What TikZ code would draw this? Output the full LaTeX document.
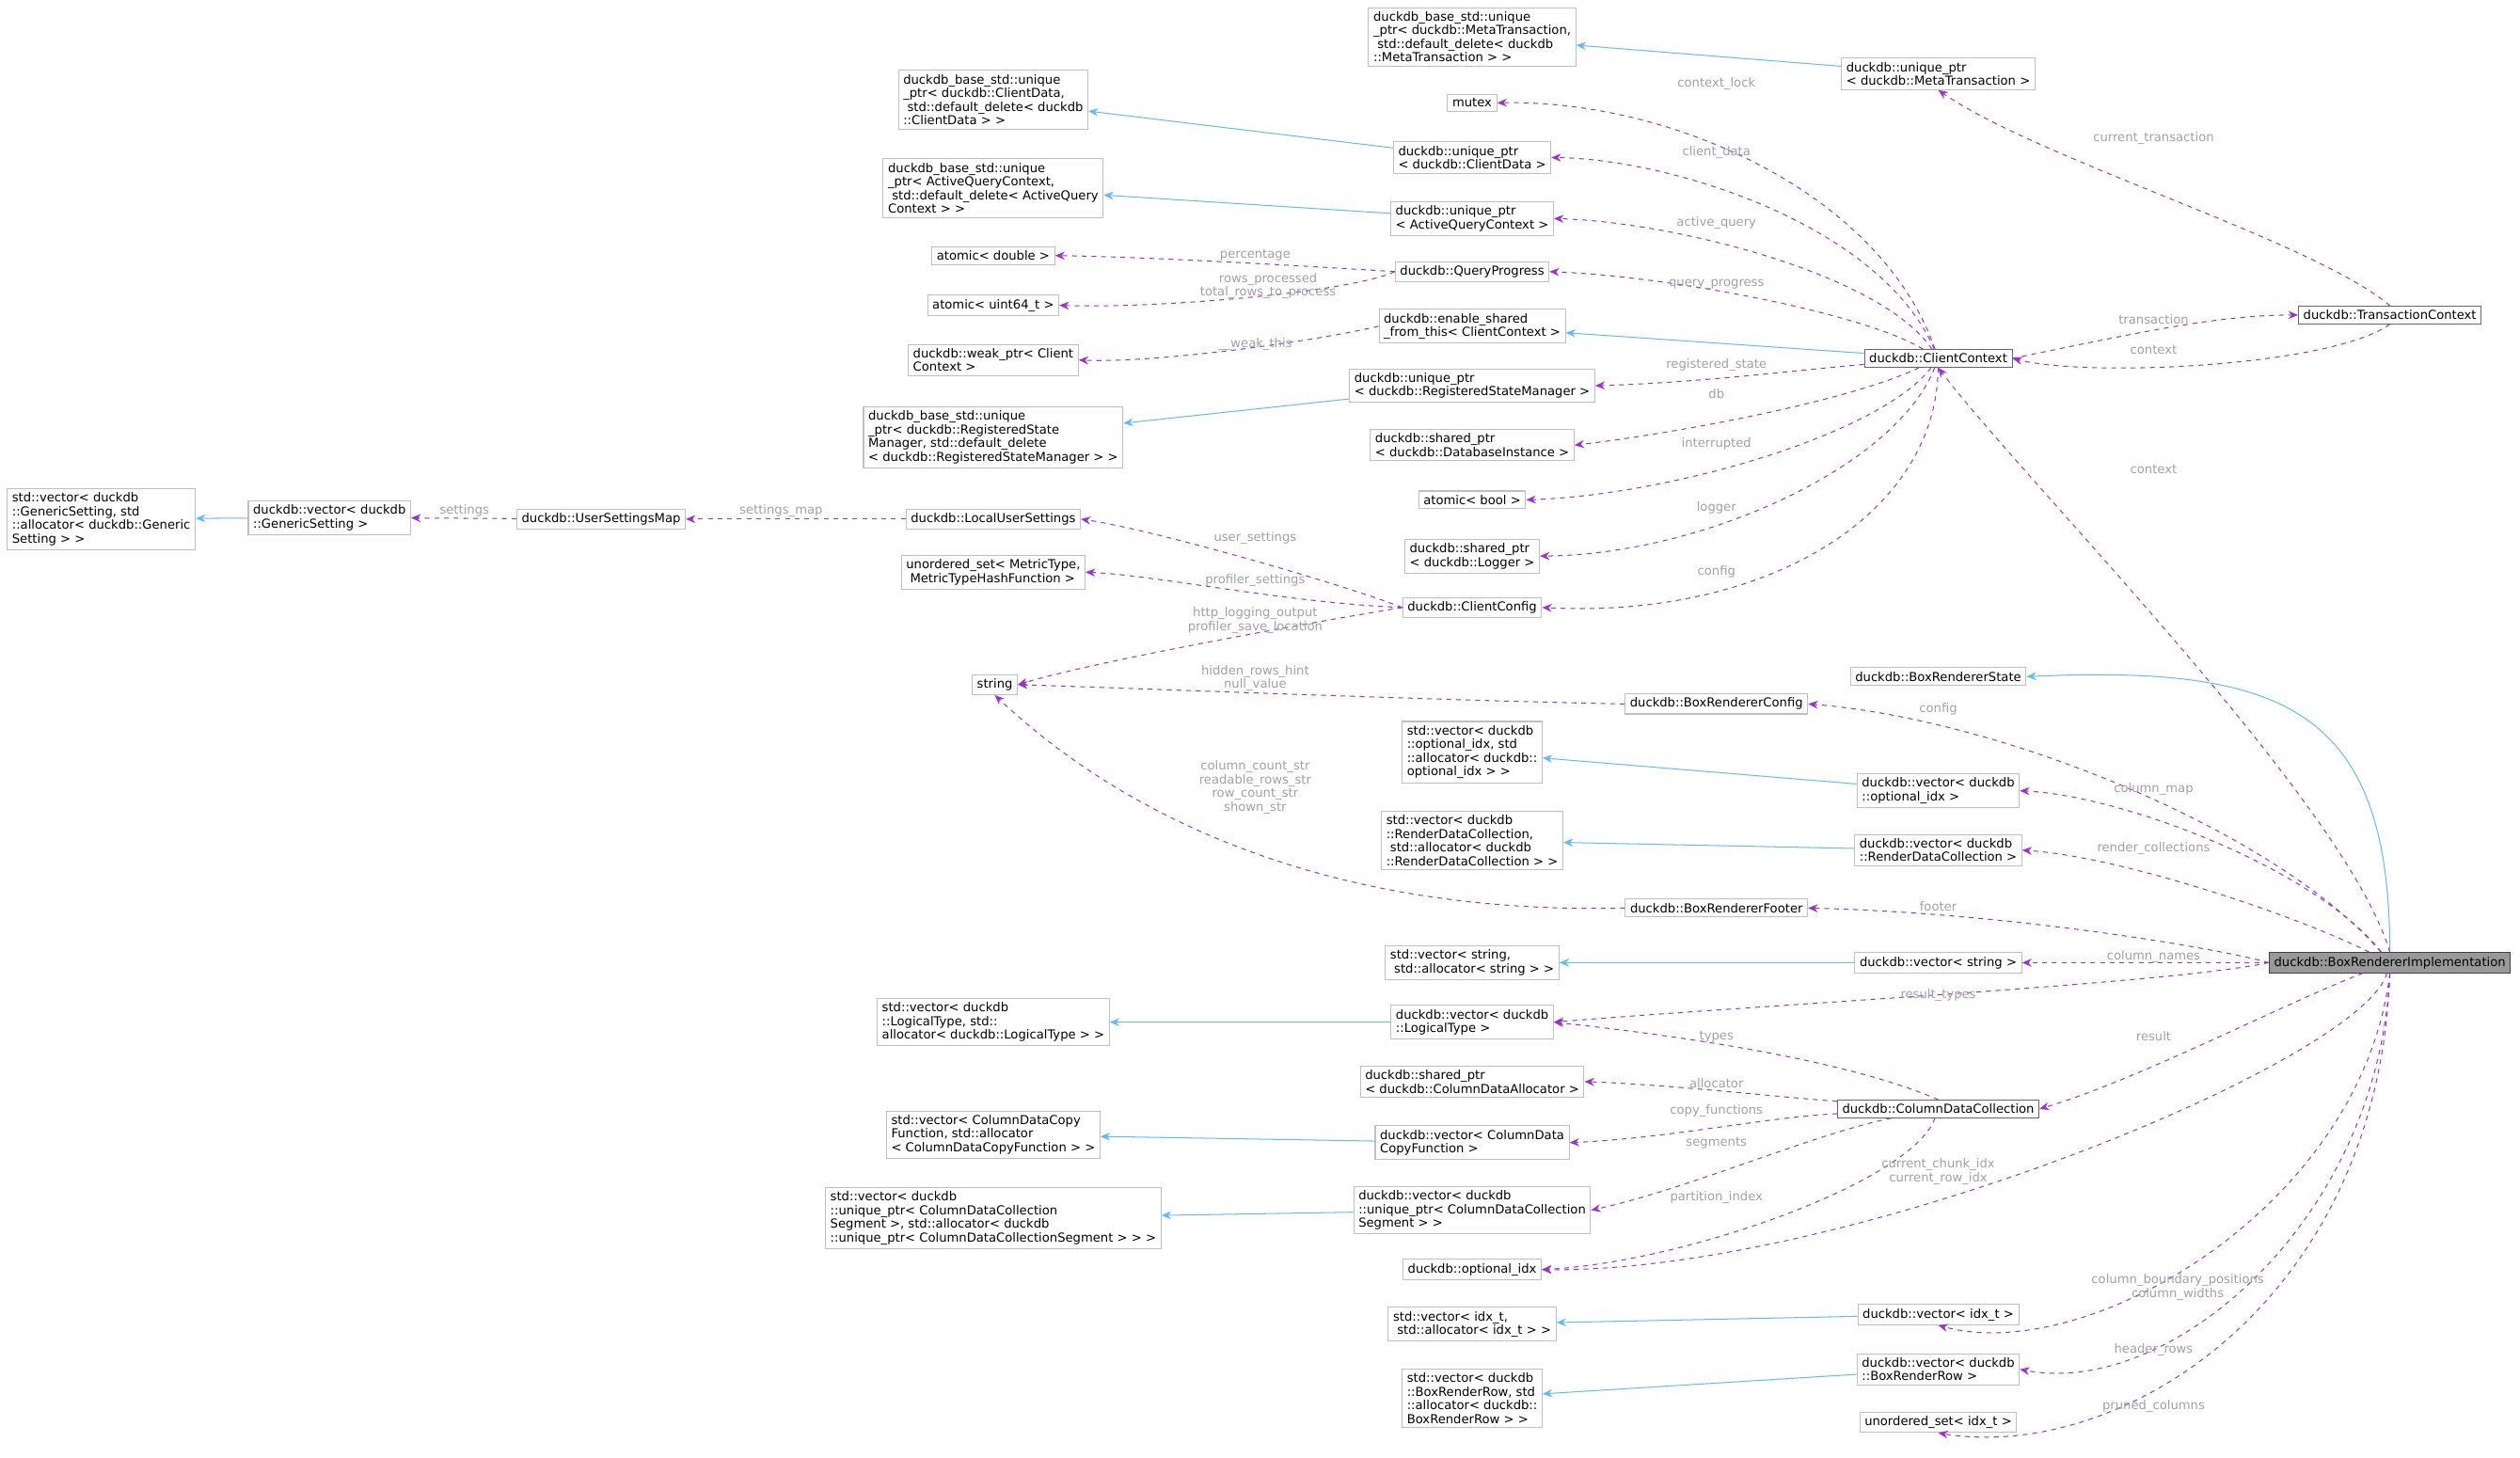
\documentclass[tikz,border=0pt]{standalone}
\usepackage{fontspec}
\setmainfont{DejaVu Sans}
\usetikzlibrary{arrows.meta}
\definecolor{dep}{HTML}{9A32CD}
\definecolor{inh}{HTML}{63B8FF}
\definecolor{nb}{HTML}{BFBFBF}
\definecolor{lb}{HTML}{A0A0A0}
\newcommand{\lsp}{\hspace*{0.32em}}
\begin{document}
\begin{tikzpicture}[x=1pt,y=-1pt,
  every node/.style={font=\fontsize{7.7}{8.5}\selectfont},
  n/.style={draw=nb,line width=0.6pt,fill=white,inner xsep=3pt,inner ysep=2.5pt,align=left},
  nd/.style={n,draw=black!60},
  lbl/.style={text=lb,align=center,inner sep=0pt},
  dp/.style={draw=dep,dashed,line width=0.6pt,-{Stealth[length=6pt,width=5pt]}},
  ih/.style={draw=inh,line width=0.6pt,-{Stealth[length=6pt,width=5pt]}}]
\useasboundingbox (0,0) rectangle (1568,907);
\node[n] (mtbase) at (916,23) {duckdb\_base\_std::unique\\\_ptr< duckdb::MetaTransaction,\\\lsp std::default\_delete< duckdb\\::MetaTransaction > >};
\node[n] (upmt) at (1206,46) {duckdb::unique\_ptr\\< duckdb::MetaTransaction >};
\node[n] (cdbase) at (618,62) {duckdb\_base\_std::unique\\\_ptr< duckdb::ClientData,\\\lsp std::default\_delete< duckdb\\::ClientData > >};
\node[n] (mutex) at (916,64) {mutex};
\node[n] (upcd) at (916,98) {duckdb::unique\_ptr\\< duckdb::ClientData >};
\node[n] (aqcbase) at (618,117) {duckdb\_base\_std::unique\\\_ptr< ActiveQueryContext,\\\lsp std::default\_delete< ActiveQuery\\Context > >};
\node[n] (upaqc) at (916,136) {duckdb::unique\_ptr\\< ActiveQueryContext >};
\node[n] (adbl) at (618,159) {atomic< double >};
\node[n] (qp) at (916,169) {duckdb::QueryProgress};
\node[n] (au64) at (618,190) {atomic< uint64\_t >};
\node[n] (esft) at (916,203) {duckdb::enable\_shared\\\_from\_this< ClientContext >};
\node[n] (weak) at (618,224) {duckdb::weak\_ptr< Client\\Context >};
\node[n] (uprsm) at (916,240) {duckdb::unique\_ptr\\< duckdb::RegisteredStateManager >};
\node[n] (rsmbase) at (618,272) {duckdb\_base\_std::unique\\\_ptr< duckdb::RegisteredState\\Manager, std::default\_delete\\< duckdb::RegisteredStateManager > >};
\node[nd] (cc) at (1206,223) {duckdb::ClientContext};
\node[nd] (tc) at (1487,196) {duckdb::TransactionContext};
\node[n] (spdb) at (916,277) {duckdb::shared\_ptr\\< duckdb::DatabaseInstance >};
\node[n] (vgsbase) at (63,323) {std::vector< duckdb\\::GenericSetting, std\\::allocator< duckdb::Generic\\Setting > >};
\node[n] (vgs) at (205,322) {duckdb::vector< duckdb\\::GenericSetting >};
\node[n] (usm) at (374,323) {duckdb::UserSettingsMap};
\node[n] (lus) at (618,323) {duckdb::LocalUserSettings};
\node[n] (abool) at (916,311) {atomic< bool >};
\node[n] (splog) at (916,346) {duckdb::shared\_ptr\\< duckdb::Logger >};
\node[n] (usmet) at (618,356) {unordered\_set< MetricType,\\\lsp MetricTypeHashFunction >};
\node[n] (ccfg) at (916,378) {duckdb::ClientConfig};
\node[n] (str) at (619,426) {string};
\node[n] (brs) at (1206,421) {duckdb::BoxRendererState};
\node[n] (brc) at (1068,438) {duckdb::BoxRendererConfig};
\node[n] (voibase) at (916,468) {std::vector< duckdb\\::optional\_idx, std\\::allocator< duckdb::\\optional\_idx > >};
\node[n] (voi) at (1206,492) {duckdb::vector< duckdb\\::optional\_idx >};
\node[n] (vrdcbase) at (916,523) {std::vector< duckdb\\::RenderDataCollection,\\\lsp std::allocator< duckdb\\::RenderDataCollection > >};
\node[n] (vrdc) at (1206,529) {duckdb::vector< duckdb\\::RenderDataCollection >};
\node[n] (brf) at (1068,565) {duckdb::BoxRendererFooter};
\node[n] (vstrbase) at (916,599) {std::vector< string,\\\lsp std::allocator< string > >};
\node[n] (vstr) at (1206,599) {duckdb::vector< string >};
\node[n,fill=black!40,draw=black!75] (bri) at (1487,599) {duckdb::BoxRendererImplementation};
\node[n] (vltbase) at (618,636) {std::vector< duckdb\\::LogicalType, std::\\allocator< duckdb::LogicalType > >};
\node[n] (vlt) at (916,636) {duckdb::vector< duckdb\\::LogicalType >};
\node[n] (spal) at (916,673) {duckdb::shared\_ptr\\< duckdb::ColumnDataAllocator >};
\node[nd] (cdc) at (1206,690) {duckdb::ColumnDataCollection};
\node[n] (vcfbase) at (618,706) {std::vector< ColumnDataCopy\\Function, std::allocator\\< ColumnDataCopyFunction > >};
\node[n] (vcf) at (916,711) {duckdb::vector< ColumnData\\CopyFunction >};
\node[n] (vsegbase) at (618,758) {std::vector< duckdb\\::unique\_ptr< ColumnDataCollection\\Segment >, std::allocator< duckdb\\::unique\_ptr< ColumnDataCollectionSegment > > >};
\node[n] (vseg) at (916,753) {duckdb::vector< duckdb\\::unique\_ptr< ColumnDataCollection\\Segment > >};
\node[n] (oidx) at (916,790) {duckdb::optional\_idx};
\node[n] (vidxbase) at (916,824) {std::vector< idx\_t,\\\lsp std::allocator< idx\_t > >};
\node[n] (vidx) at (1206,818) {duckdb::vector< idx\_t >};
\node[n] (vbrrbase) at (916,870) {std::vector< duckdb\\::BoxRenderRow, std\\::allocator< duckdb::\\BoxRenderRow > >};
\node[n] (vbrr) at (1206,852) {duckdb::vector< duckdb\\::BoxRenderRow >};
\node[n] (usidx) at (1206,885) {unordered\_set< idx\_t >};
% inheritance
\draw[ih] (upmt) -- (mtbase);
\draw[ih] (upcd) -- (cdbase);
\draw[ih] (upaqc) -- (aqcbase);
\draw[ih] (cc) -- (esft);
\draw[ih] (uprsm) -- (rsmbase);
\draw[ih] (vgs) -- (vgsbase);
\draw[ih] (voi) -- (voibase);
\draw[ih] (vrdc) -- (vrdcbase);
\draw[ih] (vstr) -- (vstrbase);
\draw[ih] (vlt) -- (vltbase);
\draw[ih] (vcf) -- (vcfbase);
\draw[ih] (vseg) -- (vsegbase);
\draw[ih] (vidx) -- (vidxbase);
\draw[ih] (vbrr) -- (vbrrbase);
\draw[ih] (bri.north) .. controls (1487,440) and (1420,414) .. (brs.east);
% dependencies
\draw[dp] (tc.north) .. controls (1440,150) and (1270,100) .. (upmt.south);
\draw[dp] (cc) .. controls (1170,120) and (1040,62) .. (mutex.east);
\draw[dp] (cc) .. controls (1170,140) and (1040,99) .. (upcd.east);
\draw[dp] (cc) .. controls (1170,170) and (1040,138) .. (upaqc.east);
\draw[dp] (cc) .. controls (1160,195) and (1040,172) .. (qp.east);
\draw[dp] (qp.west) .. controls (820,166) and (720,160) .. (adbl.east);
\draw[dp] (qp.west) .. controls (840,182) and (720,192) .. (au64.east);
\draw[dp] (esft.west) .. controls (820,212) and (720,226) .. (weak.east);
\draw[dp] (cc) .. controls (1120,230) and (1060,238) .. (uprsm.east);
\draw[dp] (cc) .. controls (1150,250) and (1040,270) .. (spdb.east);
\draw[dp] (cc) .. controls (1170,270) and (1040,308) .. (abool.east);
\draw[dp] (cc) .. controls (1180,290) and (1060,345) .. (splog.east);
\draw[dp] (cc) .. controls (1205,320) and (1100,385) .. (ccfg.east);
\draw[dp] (cc.east) .. controls (1330,207) and (1380,196) .. (tc.west);
\draw[dp] (tc.south) .. controls (1450,228) and (1300,235) .. (cc.east);
\draw[dp] (bri.north) .. controls (1460,500) and (1260,300) .. (cc.south);
\draw[dp] (usm) -- (vgs);
\draw[dp] (lus) -- (usm);
\draw[dp] (ccfg.west) .. controls (840,365) and (720,330) .. (lus.east);
\draw[dp] (ccfg.west) .. controls (800,375) and (720,358) .. (usmet.east);
\draw[dp] (ccfg.west) .. controls (800,390) and (680,412) .. (str.east);
\draw[dp] (brc.west) .. controls (900,436) and (700,428) .. (str.east);
\draw[dp] (brf.west) .. controls (800,570) and (680,490) .. (str.south);
\draw[dp] (bri) .. controls (1420,520) and (1250,448) .. (brc.east);
\draw[dp] (bri) .. controls (1440,540) and (1320,495) .. (voi.east);
\draw[dp] (bri) .. controls (1430,570) and (1320,533) .. (vrdc.east);
\draw[dp] (bri.west) .. controls (1380,590) and (1250,568) .. (brf.east);
\draw[dp] (bri) -- (vstr);
\draw[dp] (bri.west) .. controls (1350,612) and (1100,625) .. (vlt.east);
\draw[dp] (bri) .. controls (1420,625) and (1330,672) .. (cdc.east);
\draw[dp] (cdc.north) .. controls (1150,660) and (1050,645) .. (vlt.east);
\draw[dp] (cdc) .. controls (1100,682) and (1040,675) .. (spal.east);
\draw[dp] (cdc) .. controls (1100,695) and (1040,708) .. (vcf.east);
\draw[dp] (cdc) .. controls (1130,705) and (1050,740) .. (vseg.east);
\draw[dp] (cdc) .. controls (1190,735) and (1050,785) .. (oidx.east);
\draw[dp] (bri) .. controls (1470,660) and (1150,792) .. (oidx.east);
\draw[dp] (bri.south) .. controls (1470,750) and (1300,850) .. (vidx.south);
\draw[dp] (bri.south) .. controls (1480,760) and (1350,870) .. (vbrr.east);
\draw[dp] (bri.south) .. controls (1480,810) and (1320,910) .. (usidx.south);
% labels
\node[lbl] (l1) at (1068,52) {context\_lock};
\node[lbl] (l2) at (1340,86) {current\_transaction};
\node[lbl] (l3) at (1068,95) {client\_data};
\node[lbl] (l4) at (1068,139) {active\_query};
\node[lbl] (l5) at (1068,177) {query\_progress};
\node[lbl] (l6) at (781,159) {percentage};
\node[lbl] (l7) at (789,178) {rows\_processed\\total\_rows\_to\_process};
\node[lbl] (l8) at (781,214) {\_\_weak\_this};
\node[lbl] (l9) at (1340,199) {transaction};
\node[lbl] (l10) at (1340,218) {context};
\node[lbl] (l11) at (1068,227) {registered\_state};
\node[lbl] (l12) at (1068,245) {db};
\node[lbl] (l13) at (1068,276) {interrupted};
\node[lbl] (l14) at (1340,292) {context};
\node[lbl] (l15) at (1068,316) {logger};
\node[lbl] (l16) at (289,318) {settings};
\node[lbl] (l17) at (486,318) {settings\_map};
\node[lbl] (l18) at (781,335) {user\_settings};
\node[lbl] (l19) at (1068,356) {config};
\node[lbl] (l20) at (781,361) {profiler\_settings};
\node[lbl] (l21) at (781,386) {http\_logging\_output\\profiler\_save\_location};
\node[lbl] (l22) at (781,422) {hidden\_rows\_hint\\null\_value};
\node[lbl] (l23) at (1206,441) {config};
\node[lbl] (l24) at (781,490) {column\_count\_str\\readable\_rows\_str\\row\_count\_str\\shown\_str};
\node[lbl] (l25) at (1340,491) {column\_map};
\node[lbl] (l26) at (1340,528) {render\_collections};
\node[lbl] (l27) at (1206,564) {footer};
\node[lbl] (l28) at (1340,595) {column\_names};
\node[lbl] (l29) at (1206,619) {result\_types};
\node[lbl] (l30) at (1340,645) {result};
\node[lbl] (l31) at (1068,645) {types};
\node[lbl] (l32) at (1068,674) {allocator};
\node[lbl] (l33) at (1068,691) {copy\_functions};
\node[lbl] (l34) at (1068,711) {segments};
\node[lbl] (l35) at (1206,729) {current\_chunk\_idx\\current\_row\_idx};
\node[lbl] (l36) at (1068,745) {partition\_index};
\node[lbl] (l37) at (1355,801) {column\_boundary\_positions\\column\_widths};
\node[lbl] (l38) at (1340,840) {header\_rows};
\node[lbl] (l39) at (1340,875) {pruned\_columns};
\end{tikzpicture}
\end{document}
